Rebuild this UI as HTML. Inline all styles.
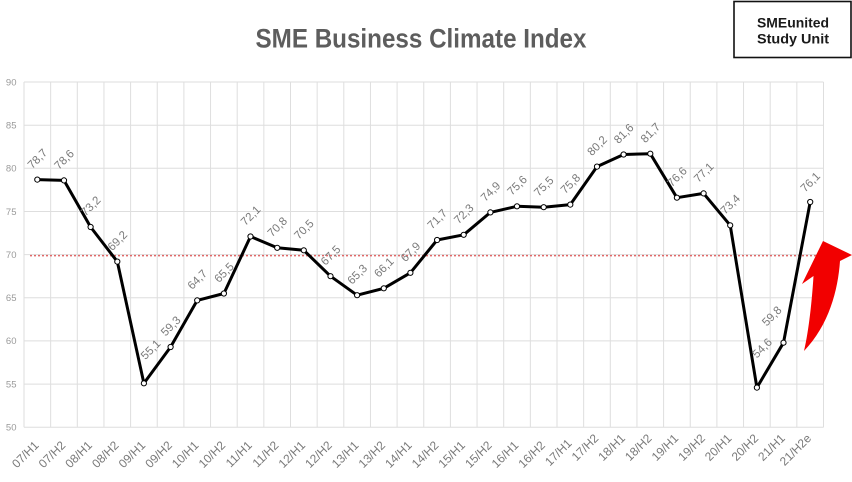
<!DOCTYPE html>
<html><head><meta charset="utf-8"><style>
html,body{margin:0;padding:0;background:#fff;}
svg{display:block;}
</style></head><body>
<svg width="852" height="482" viewBox="0 0 852 482" xmlns="http://www.w3.org/2000/svg" font-family="Liberation Sans, sans-serif">
<rect width="852" height="482" fill="#fff"/>
<!-- title -->
<text x="421" y="47.5" text-anchor="middle" font-size="27" font-weight="bold" fill="#5d5d5d" textLength="331" lengthAdjust="spacingAndGlyphs">SME Business Climate Index</text>
<!-- box -->
<rect x="734" y="1.5" width="117" height="56" fill="#fff" stroke="#111" stroke-width="1.6"/>
<text x="793" y="27.3" text-anchor="middle" font-size="14" font-weight="bold" fill="#1a1a1a" textLength="72" lengthAdjust="spacingAndGlyphs">SMEunited</text>
<text x="793" y="43.3" text-anchor="middle" font-size="14" font-weight="bold" fill="#1a1a1a" textLength="72" lengthAdjust="spacingAndGlyphs">Study Unit</text>
<!-- grid -->
<g stroke="#dedede" stroke-width="1">
<line x1="24" y1="82" x2="823.5" y2="82"/>
<line x1="24" y1="125.2" x2="823.5" y2="125.2"/>
<line x1="24" y1="168.3" x2="823.5" y2="168.3"/>
<line x1="24" y1="211.5" x2="823.5" y2="211.5"/>
<line x1="24" y1="254.6" x2="823.5" y2="254.6"/>
<line x1="24" y1="297.8" x2="823.5" y2="297.8"/>
<line x1="24" y1="340.9" x2="823.5" y2="340.9"/>
<line x1="24" y1="384.1" x2="823.5" y2="384.1"/>
<line x1="24" y1="427.3" x2="823.5" y2="427.3"/>
<line x1="24" y1="82" x2="24" y2="427.3"/>
<line x1="50.65" y1="82" x2="50.65" y2="427.3"/>
<line x1="77.3" y1="82" x2="77.3" y2="427.3"/>
<line x1="103.95" y1="82" x2="103.95" y2="427.3"/>
<line x1="130.6" y1="82" x2="130.6" y2="427.3"/>
<line x1="157.25" y1="82" x2="157.25" y2="427.3"/>
<line x1="183.9" y1="82" x2="183.9" y2="427.3"/>
<line x1="210.55" y1="82" x2="210.55" y2="427.3"/>
<line x1="237.2" y1="82" x2="237.2" y2="427.3"/>
<line x1="263.85" y1="82" x2="263.85" y2="427.3"/>
<line x1="290.5" y1="82" x2="290.5" y2="427.3"/>
<line x1="317.15" y1="82" x2="317.15" y2="427.3"/>
<line x1="343.8" y1="82" x2="343.8" y2="427.3"/>
<line x1="370.45" y1="82" x2="370.45" y2="427.3"/>
<line x1="397.1" y1="82" x2="397.1" y2="427.3"/>
<line x1="423.75" y1="82" x2="423.75" y2="427.3"/>
<line x1="450.4" y1="82" x2="450.4" y2="427.3"/>
<line x1="477.05" y1="82" x2="477.05" y2="427.3"/>
<line x1="503.7" y1="82" x2="503.7" y2="427.3"/>
<line x1="530.35" y1="82" x2="530.35" y2="427.3"/>
<line x1="557" y1="82" x2="557" y2="427.3"/>
<line x1="583.65" y1="82" x2="583.65" y2="427.3"/>
<line x1="610.3" y1="82" x2="610.3" y2="427.3"/>
<line x1="636.95" y1="82" x2="636.95" y2="427.3"/>
<line x1="663.6" y1="82" x2="663.6" y2="427.3"/>
<line x1="690.25" y1="82" x2="690.25" y2="427.3"/>
<line x1="716.9" y1="82" x2="716.9" y2="427.3"/>
<line x1="743.55" y1="82" x2="743.55" y2="427.3"/>
<line x1="770.2" y1="82" x2="770.2" y2="427.3"/>
<line x1="796.85" y1="82" x2="796.85" y2="427.3"/>
<line x1="823.5" y1="82" x2="823.5" y2="427.3"/>
</g>
<!-- y labels -->
<g font-size="9.5" fill="#9a9a9a" text-anchor="end">
<text x="16.5" y="85.3">90</text>
<text x="16.5" y="128.5">85</text>
<text x="16.5" y="171.6">80</text>
<text x="16.5" y="214.8">75</text>
<text x="16.5" y="257.9">70</text>
<text x="16.5" y="301.1">65</text>
<text x="16.5" y="344.2">60</text>
<text x="16.5" y="387.4">55</text>
<text x="16.5" y="430.6">50</text>
</g>
<!-- red dotted reference -->
<line x1="30" y1="255.6" x2="822" y2="255.6" stroke="#e06868" stroke-width="1.5" stroke-dasharray="2,2"/>
<!-- series line -->
<polyline fill="none" stroke="#000" stroke-width="3" stroke-linejoin="round" points="37.3,179.6 64.0,180.4 90.6,227.0 117.3,261.6 143.9,383.3 170.6,347.0 197.2,300.4 223.9,293.5 250.5,236.5 277.2,247.8 303.8,250.3 330.5,276.2 357.1,295.2 383.8,288.3 410.4,272.8 437.1,240.0 463.7,234.8 490.4,212.4 517.0,206.3 543.7,207.2 570.3,204.6 597.0,166.6 623.6,154.5 650.3,153.7 676.9,197.7 703.6,193.4 730.2,225.3 756.9,387.6 783.5,342.7 810.2,202.0"/>
<g fill="#fff" stroke="#000" stroke-width="1">
<circle cx="37.3" cy="179.6" r="2.6"/><circle cx="64.0" cy="180.4" r="2.6"/><circle cx="90.6" cy="227.0" r="2.6"/><circle cx="117.3" cy="261.6" r="2.6"/><circle cx="143.9" cy="383.3" r="2.6"/><circle cx="170.6" cy="347.0" r="2.6"/><circle cx="197.2" cy="300.4" r="2.6"/><circle cx="223.9" cy="293.5" r="2.6"/><circle cx="250.5" cy="236.5" r="2.6"/><circle cx="277.2" cy="247.8" r="2.6"/><circle cx="303.8" cy="250.3" r="2.6"/><circle cx="330.5" cy="276.2" r="2.6"/><circle cx="357.1" cy="295.2" r="2.6"/><circle cx="383.8" cy="288.3" r="2.6"/><circle cx="410.4" cy="272.8" r="2.6"/><circle cx="437.1" cy="240.0" r="2.6"/><circle cx="463.7" cy="234.8" r="2.6"/><circle cx="490.4" cy="212.4" r="2.6"/><circle cx="517.0" cy="206.3" r="2.6"/><circle cx="543.7" cy="207.2" r="2.6"/><circle cx="570.3" cy="204.6" r="2.6"/><circle cx="597.0" cy="166.6" r="2.6"/><circle cx="623.6" cy="154.5" r="2.6"/><circle cx="650.3" cy="153.7" r="2.6"/><circle cx="676.9" cy="197.7" r="2.6"/><circle cx="703.6" cy="193.4" r="2.6"/><circle cx="730.2" cy="225.3" r="2.6"/><circle cx="756.9" cy="387.6" r="2.6"/><circle cx="783.5" cy="342.7" r="2.6"/><circle cx="810.2" cy="202.0" r="2.6"/>
</g>
<!-- data labels -->
<g font-size="11.5" fill="#7a7a7a" text-anchor="middle">
<text transform="translate(37.3,158.6) rotate(-45)" dy="4">78,7</text>
<text transform="translate(64.0,159.4) rotate(-45)" dy="4">78,6</text>
<text transform="translate(90.6,206.0) rotate(-45)" dy="4">73,2</text>
<text transform="translate(117.3,240.6) rotate(-45)" dy="4">69,2</text>
<text transform="translate(150.5,349.5) rotate(-45)" dy="4">55,1</text>
<text transform="translate(170.6,326.0) rotate(-45)" dy="4">59,3</text>
<text transform="translate(197.2,279.4) rotate(-45)" dy="4">64,7</text>
<text transform="translate(223.9,272.5) rotate(-45)" dy="4">65,5</text>
<text transform="translate(250.5,215.5) rotate(-45)" dy="4">72,1</text>
<text transform="translate(277.2,226.8) rotate(-45)" dy="4">70,8</text>
<text transform="translate(303.8,229.3) rotate(-45)" dy="4">70,5</text>
<text transform="translate(330.5,255.2) rotate(-45)" dy="4">67,5</text>
<text transform="translate(357.1,274.2) rotate(-45)" dy="4">65,3</text>
<text transform="translate(383.8,267.3) rotate(-45)" dy="4">66,1</text>
<text transform="translate(410.4,251.8) rotate(-45)" dy="4">67,9</text>
<text transform="translate(437.1,219.0) rotate(-45)" dy="4">71,7</text>
<text transform="translate(463.7,213.8) rotate(-45)" dy="4">72,3</text>
<text transform="translate(490.4,191.4) rotate(-45)" dy="4">74,9</text>
<text transform="translate(517.0,185.3) rotate(-45)" dy="4">75,6</text>
<text transform="translate(543.7,186.2) rotate(-45)" dy="4">75,5</text>
<text transform="translate(570.3,183.6) rotate(-45)" dy="4">75,8</text>
<text transform="translate(597.0,145.6) rotate(-45)" dy="4">80,2</text>
<text transform="translate(623.6,133.5) rotate(-45)" dy="4">81,6</text>
<text transform="translate(650.3,132.7) rotate(-45)" dy="4">81,7</text>
<text transform="translate(676.9,176.7) rotate(-45)" dy="4">76,6</text>
<text transform="translate(703.6,172.4) rotate(-45)" dy="4">77,1</text>
<text transform="translate(730.2,204.3) rotate(-45)" dy="4">73,4</text>
<text transform="translate(762.0,348.0) rotate(-45)" dy="4">54,6</text>
<text transform="translate(771.7,316.0) rotate(-45)" dy="4">59,8</text>
<text transform="translate(810.2,182.0) rotate(-45)" dy="4">76,1</text>
</g>
<!-- x labels -->
<g font-size="12" fill="#7a7a7a" text-anchor="end">
<text transform="translate(39.5,446) rotate(-45)">07/H1</text>
<text transform="translate(66.2,446) rotate(-45)">07/H2</text>
<text transform="translate(92.8,446) rotate(-45)">08/H1</text>
<text transform="translate(119.5,446) rotate(-45)">08/H2</text>
<text transform="translate(146.1,446) rotate(-45)">09/H1</text>
<text transform="translate(172.8,446) rotate(-45)">09/H2</text>
<text transform="translate(199.4,446) rotate(-45)">10/H1</text>
<text transform="translate(226.1,446) rotate(-45)">10/H2</text>
<text transform="translate(252.7,446) rotate(-45)">11/H1</text>
<text transform="translate(279.4,446) rotate(-45)">11/H2</text>
<text transform="translate(306.0,446) rotate(-45)">12/H1</text>
<text transform="translate(332.7,446) rotate(-45)">12/H2</text>
<text transform="translate(359.3,446) rotate(-45)">13/H1</text>
<text transform="translate(386.0,446) rotate(-45)">13/H2</text>
<text transform="translate(412.6,446) rotate(-45)">14/H1</text>
<text transform="translate(439.3,446) rotate(-45)">14/H2</text>
<text transform="translate(465.9,446) rotate(-45)">15/H1</text>
<text transform="translate(492.6,446) rotate(-45)">15/H2</text>
<text transform="translate(519.2,446) rotate(-45)">16/H1</text>
<text transform="translate(545.9,446) rotate(-45)">16/H2</text>
<text transform="translate(572.5,444) rotate(-45)">17/H1</text>
<text transform="translate(599.2,439) rotate(-45)">17/H2</text>
<text transform="translate(625.8,439) rotate(-45)">18/H1</text>
<text transform="translate(652.5,439) rotate(-45)">18/H2</text>
<text transform="translate(679.1,439) rotate(-45)">19/H1</text>
<text transform="translate(705.8,439) rotate(-45)">19/H2</text>
<text transform="translate(732.4,439) rotate(-45)">20/H1</text>
<text transform="translate(759.1,439) rotate(-45)">20/H2</text>
<text transform="translate(785.7,439) rotate(-45)">21/H1</text>
<text transform="translate(812.0,439) rotate(-45)">21/H2e</text>
</g>
<!-- red arrow -->
<path d="M823,241 L852,255 L840,261 C838,290 829,325 804,351 C809,330 812,300 813.5,276 L802,284 Z" fill="#f20000"/>
</svg>
</body></html>
